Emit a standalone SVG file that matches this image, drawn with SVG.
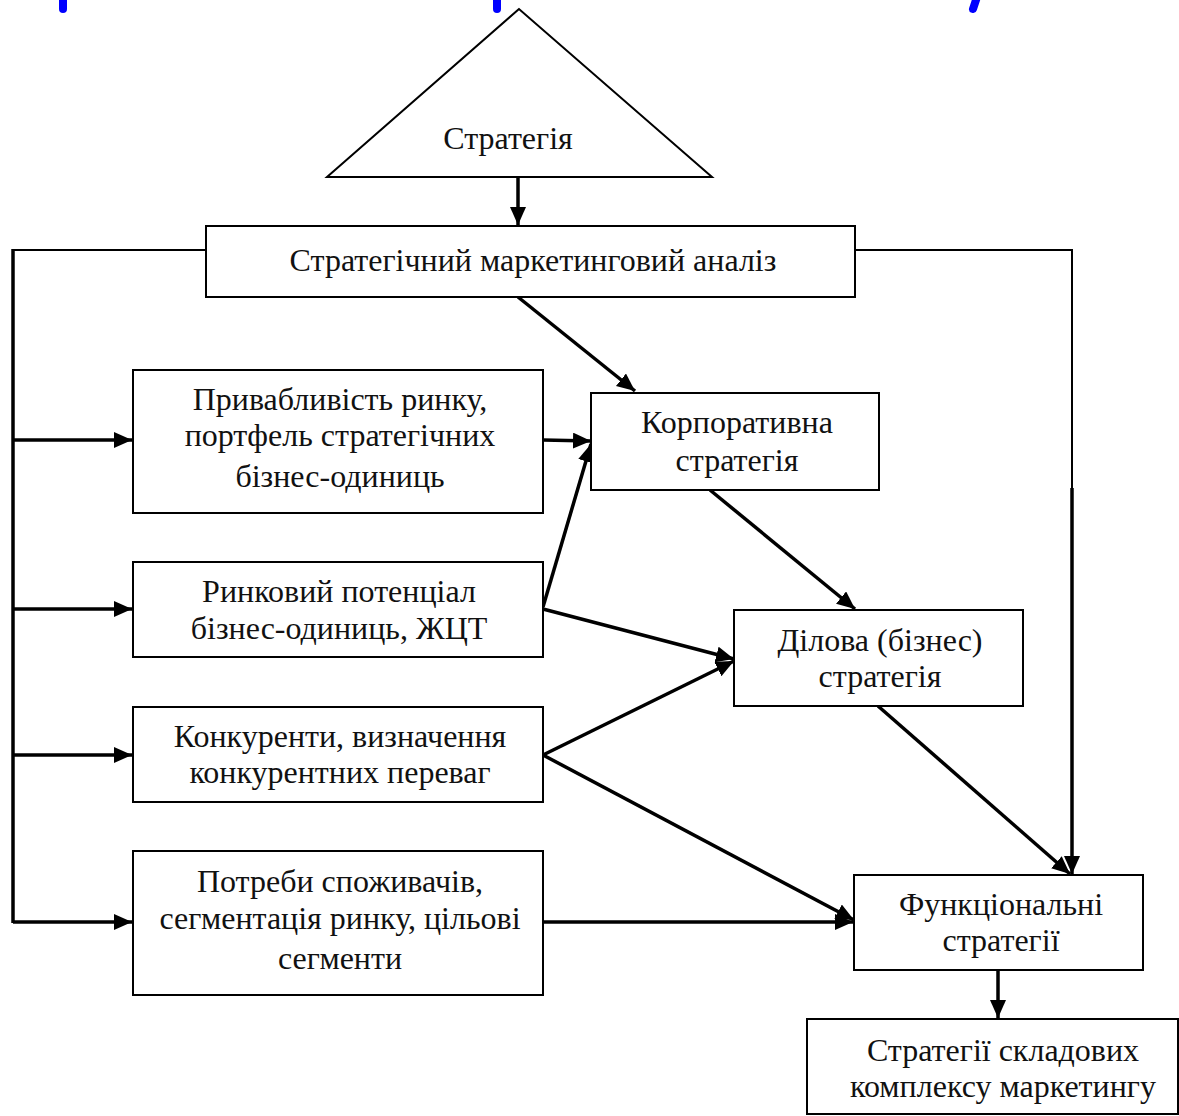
<svg xmlns="http://www.w3.org/2000/svg" width="1179" height="1116" viewBox="0 0 1179 1116">
<style>
.box{fill:#fff;stroke:#000;stroke-width:2}
.t{font-family:"Liberation Serif","Times New Roman",serif;font-size:32px;fill:#111;text-anchor:middle}
.c{fill:none;stroke:#000;stroke-width:3.5}
.thin{fill:none;stroke:#000;stroke-width:2}
.blue{stroke:#0000ff;stroke-width:8;stroke-linecap:round;fill:none}
</style>
<defs>
<marker id="ah" markerUnits="userSpaceOnUse" markerWidth="20" markerHeight="18" refX="18" refY="8" orient="auto">
<path d="M0,0 L18,8 L0,16 Z" fill="#000"/>
</marker>
</defs>
<rect width="1179" height="1116" fill="#fff"/>
<g id="title-fragments">
<line class="blue" x1="63" y1="-6" x2="63" y2="9"/>
<line class="blue" x1="497" y1="-6" x2="497" y2="9"/>
<line class="blue" x1="978" y1="-6" x2="973" y2="9"/>
</g>
<g id="connectors">
<line class="thin" x1="206" y1="250" x2="13" y2="250"/>
<line class="c" x1="13" y1="249" x2="13" y2="923"/>
<line class="c" x1="13" y1="440" x2="132" y2="440" marker-end="url(#ah)"/>
<line class="c" x1="13" y1="609" x2="132" y2="609" marker-end="url(#ah)"/>
<line class="c" x1="13" y1="755" x2="132" y2="755" marker-end="url(#ah)"/>
<line class="c" x1="13" y1="922" x2="132" y2="922" marker-end="url(#ah)"/>
<line class="c" x1="518" y1="177" x2="518" y2="225" marker-end="url(#ah)"/>
<polyline class="thin" points="855,250 1072,250 1072,490"/>
<line class="c" x1="1072" y1="488" x2="1072" y2="874" marker-end="url(#ah)"/>
<line class="c" x1="518" y1="297" x2="635" y2="391" marker-end="url(#ah)"/>
<line class="c" x1="543" y1="440" x2="591" y2="441" marker-end="url(#ah)"/>
<line class="c" x1="543" y1="607" x2="591" y2="444" marker-end="url(#ah)"/>
<line class="c" x1="543" y1="609" x2="734" y2="659" marker-end="url(#ah)"/>
<line class="c" x1="543" y1="755" x2="734" y2="661" marker-end="url(#ah)"/>
<line class="c" x1="543" y1="755" x2="854" y2="920" marker-end="url(#ah)"/>
<line class="c" x1="543" y1="922" x2="853" y2="922" marker-end="url(#ah)"/>
<line class="c" x1="710" y1="490" x2="855" y2="609" marker-end="url(#ah)"/>
<line class="c" x1="878" y1="706" x2="1070" y2="874" marker-end="url(#ah)"/>
<line class="c" x1="998" y1="970" x2="998" y2="1018" marker-end="url(#ah)"/>
</g>
<g id="strategy">
<polygon points="519,9 327,177 712,177" fill="#fff" stroke="#000" stroke-width="2"/>
<text class="t" x="508" y="149">Стратегія</text>
</g>
<g id="analysis">
<rect class="box" x="206" y="226" width="649" height="71"/>
<text class="t" x="533" y="271">Стратегічний маркетинговий аналіз</text>
</g>
<g id="attractiveness">
<rect class="box" x="133" y="370" width="410" height="143"/>
<text class="t" x="340" y="410">Привабливість ринку,</text>
<text class="t" x="340" y="446">портфель стратегічних</text>
<text class="t" x="340" y="487">бізнес-одиниць</text>
</g>
<g id="potential">
<rect class="box" x="133" y="562" width="410" height="95"/>
<text class="t" x="339" y="602">Ринковий потенціал</text>
<text class="t" x="339" y="639">бізнес-одиниць, ЖЦТ</text>
</g>
<g id="competitors">
<rect class="box" x="133" y="707" width="410" height="95"/>
<text class="t" x="340" y="747">Конкуренти, визначення</text>
<text class="t" x="340" y="783">конкурентних переваг</text>
</g>
<g id="needs">
<rect class="box" x="133" y="851" width="410" height="144"/>
<text class="t" x="340" y="892">Потреби споживачів,</text>
<text class="t" x="340" y="929">сегментація ринку, цільові</text>
<text class="t" x="340" y="969">сегменти</text>
</g>
<g id="corporate">
<rect class="box" x="591" y="393" width="288" height="97"/>
<text class="t" x="737" y="433">Корпоративна</text>
<text class="t" x="737" y="471">стратегія</text>
</g>
<g id="business">
<rect class="box" x="734" y="610" width="289" height="96"/>
<text class="t" x="880" y="651">Ділова (бізнес)</text>
<text class="t" x="880" y="687">стратегія</text>
</g>
<g id="functional">
<rect class="box" x="854" y="875" width="289" height="95"/>
<text class="t" x="1001" y="915">Функціональні</text>
<text class="t" x="1001" y="951">стратегії</text>
</g>
<g id="mix">
<rect class="box" x="807" y="1019" width="371" height="95"/>
<text class="t" x="1003" y="1061">Стратегії складових</text>
<text class="t" x="1003" y="1097">комплексу маркетингу</text>
</g>
</svg>
